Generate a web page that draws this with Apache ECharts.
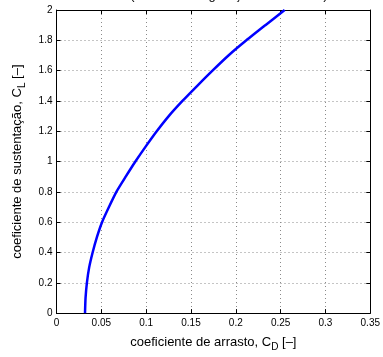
<!DOCTYPE html>
<html>
<head>
<meta charset="utf-8">
<style>
  html, body { margin: 0; padding: 0; background: #fff; }
  #chart { width: 383px; height: 357px; }
</style>
<script src="https://cdn.jsdelivr.net/npm/echarts@6/dist/echarts.min.js"></script>
</head>
<body>
<div id="chart"></div>
<script>
// drag polar: lift coefficient vs drag coefficient
const liftCoef = [0, 0.1, 0.2, 0.3, 0.4, 0.5, 0.6, 0.7, 0.8, 0.9, 1.0,
                  1.1, 1.2, 1.3, 1.4, 1.5, 1.6, 1.7, 1.8, 1.9, 2.0]
const dragCoef = [0.0318, 0.0324, 0.0339, 0.0364, 0.0403, 0.0450, 0.0508, 0.0585, 0.0668, 0.0772, 0.0880,
                  0.0996, 0.1118, 0.1252, 0.1405, 0.1570, 0.1740, 0.1918, 0.2118, 0.2330, 0.2545]

const xTicks = [0, 0.05, 0.1, 0.15, 0.2, 0.25, 0.3, 0.35]
const yTicks = [0, 0.2, 0.4, 0.6, 0.8, 1, 1.2, 1.4, 1.6, 1.8, 2]

const font = 'Liberation Sans, Arial, Helvetica, sans-serif'
const gridLine = { show: true, lineStyle: { color: '#8a8a8a', type: [1, 3], width: 1 } }

const chart = echarts.init(document.getElementById('chart'), null, { renderer: 'canvas' })

const baseX = {
  type: 'value',
  min: xTicks[0],
  max: xTicks[xTicks.length - 1],
  interval: 0.05,
  axisLine: { show: true, onZero: false, lineStyle: { color: '#000', width: 1 } },
  axisTick: { show: true, inside: true, length: 4, lineStyle: { color: '#000' } },
}
const baseY = {
  type: 'value',
  min: yTicks[0],
  max: yTicks[yTicks.length - 1],
  interval: 0.2,
  axisLine: { show: true, onZero: false, lineStyle: { color: '#000', width: 1 } },
  axisTick: { show: true, inside: true, length: 4, lineStyle: { color: '#000' } },
}

chart.setOption({
  animation: false,
  backgroundColor: '#fff',
  title: {
    text: '(asa em configuração de cruzeiro)',
    left: 224,
    textAlign: 'center',
    top: -16,
    textStyle: { fontFamily: font, fontSize: 13, fontWeight: 'normal', color: '#000' },
  },
  grid: { left: 54, right: 12, top: 10, bottom: 36, containLabel: false },
  xAxis: [
    {
      ...baseX,
      position: 'bottom',
      axisLabel: {
        color: '#000', fontFamily: font, fontSize: 10, margin: 5,
        formatter: v => String(+v.toFixed(2)),
      },
      splitLine: gridLine,
      name: '{a|coeficiente de arrasto, C}{s|D}{a| [–]}',
      nameLocation: 'middle',
      nameGap: 19,
      nameTextStyle: {
        rich: {
          a: { fontFamily: font, fontSize: 13, color: '#000', lineHeight: 16 },
          s: { fontFamily: font, fontSize: 10, color: '#000', lineHeight: 16, padding: [9, 0, 0, 0] },
        },
      },
    },
    { ...baseX, position: 'top', axisLabel: { show: false }, splitLine: { show: false } },
  ],
  yAxis: [
    {
      ...baseY,
      position: 'left',
      axisLabel: { color: '#000', fontFamily: font, fontSize: 10, margin: 4 },
      splitLine: gridLine,
      name: '{a|coeficiente de sustentação, C}{s|L}{a| [–]}',
      nameLocation: 'middle',
      nameGap: 31,
      nameTextStyle: {
        rich: {
          a: { fontFamily: font, fontSize: 13, color: '#000', lineHeight: 16 },
          s: { fontFamily: font, fontSize: 10, color: '#000', lineHeight: 16, padding: [9, 0, 0, 0] },
        },
      },
    },
    { ...baseY, position: 'right', axisLabel: { show: false }, splitLine: { show: false } },
  ],
  series: [
    {
      type: 'line',
      data: liftCoef.map((cl, i) => [dragCoef[i], cl]),
      smooth: 0.2,
      showSymbol: false,
      lineStyle: { color: '#0000ff', width: 2.5 },
      clip: true,
    },
  ],
})
</script>
</body>
</html>
